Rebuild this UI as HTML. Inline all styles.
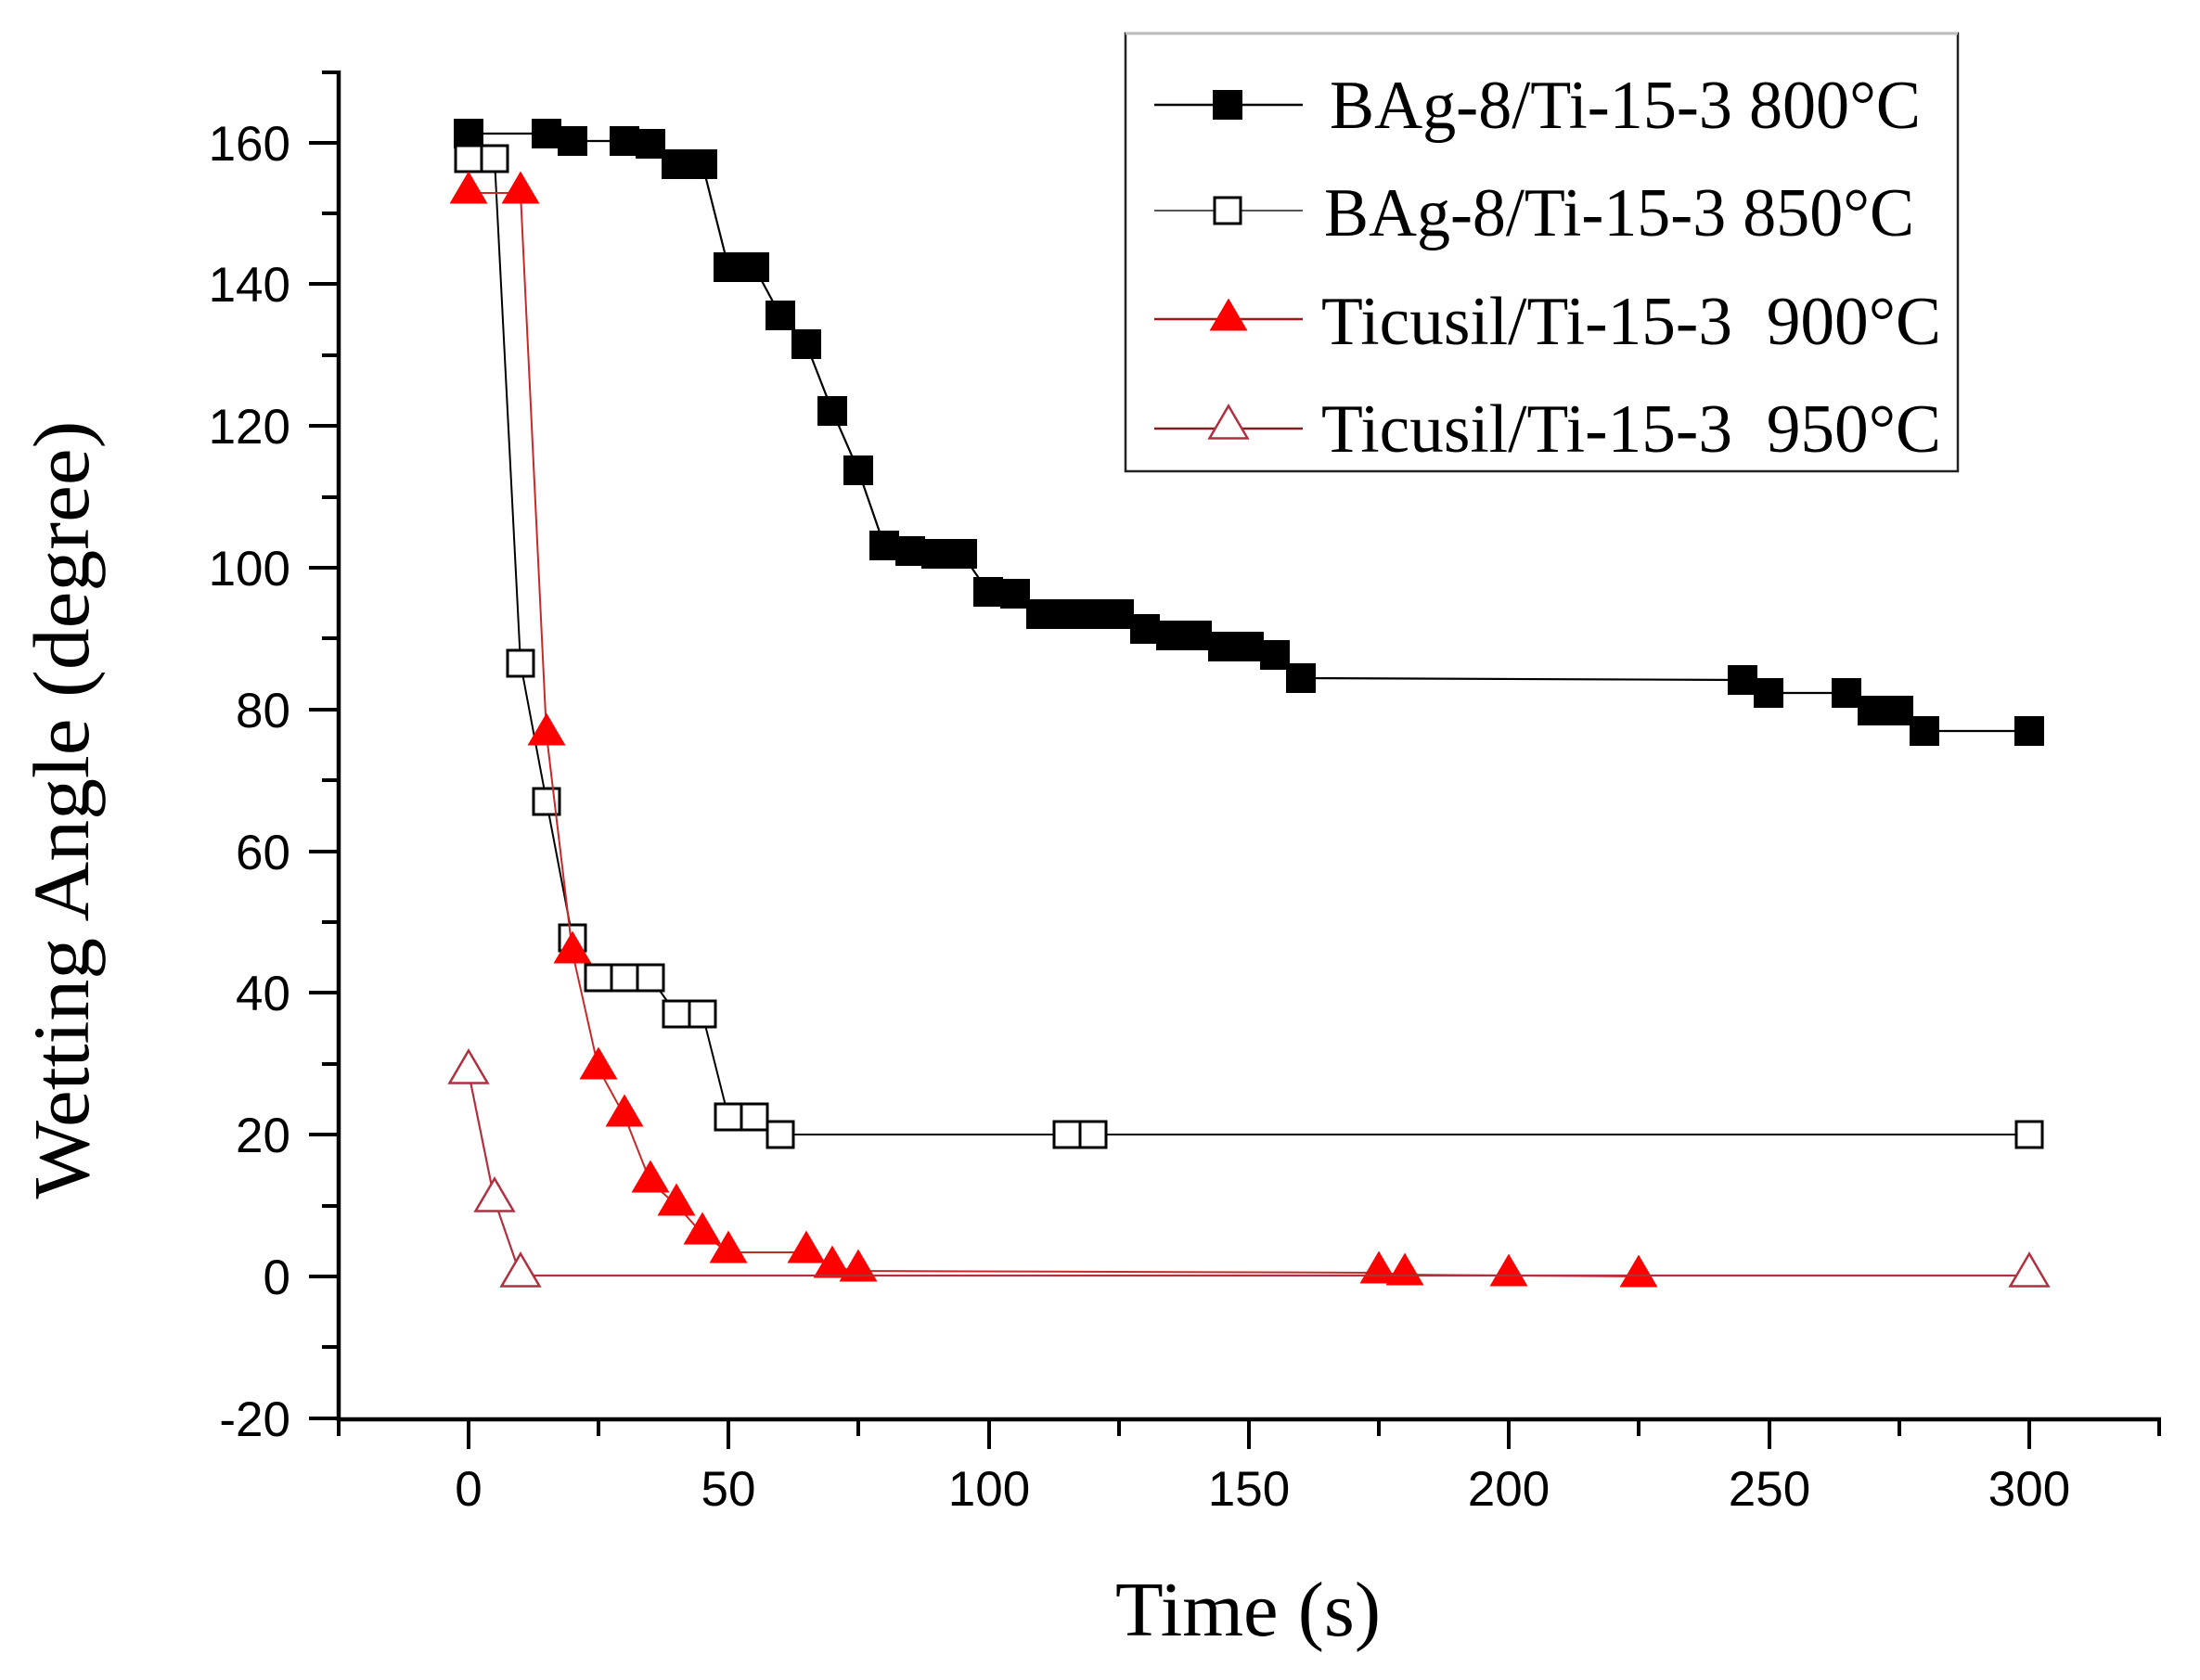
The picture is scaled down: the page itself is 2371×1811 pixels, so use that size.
<!DOCTYPE html>
<html>
<head>
<meta charset="utf-8">
<style>
html,body{margin:0;padding:0;background:#fff;}
svg{display:block;}
</style>
</head>
<body>
<svg width="2371" height="1811" viewBox="0 0 2371 1811" xmlns="http://www.w3.org/2000/svg">
<defs>
  <rect id="sqf" x="-16" y="-16" width="32" height="32" fill="#000"/>
  <rect id="sqo" x="-14" y="-14" width="28" height="28" fill="#fff" stroke="#000" stroke-width="3"/>
  <path id="tf" d="M0,-23.5 L20.5,11.5 L-20.5,11.5 Z" fill="#f00"/>
  <path id="to" d="M0,-23.5 L20.5,11.5 L-20.5,11.5 Z" fill="#fff" stroke="#b03040" stroke-width="2.5"/>
</defs>
<rect x="0" y="0" width="2371" height="1811" fill="#fff"/>

<!-- Axes -->
<g stroke="#000" stroke-width="4.5" fill="none">
  <line x1="365" y1="76" x2="365" y2="1532"/>
  <line x1="363" y1="1530" x2="2329" y2="1530"/>
</g>
<!-- Y major ticks -->
<g stroke="#000" stroke-width="4">
  <line x1="333" y1="1529" x2="365" y2="1529"/>
  <line x1="333" y1="1376" x2="365" y2="1376"/>
  <line x1="333" y1="1223" x2="365" y2="1223"/>
  <line x1="333" y1="1070" x2="365" y2="1070"/>
  <line x1="333" y1="918" x2="365" y2="918"/>
  <line x1="333" y1="765" x2="365" y2="765"/>
  <line x1="333" y1="612" x2="365" y2="612"/>
  <line x1="333" y1="459" x2="365" y2="459"/>
  <line x1="333" y1="306" x2="365" y2="306"/>
  <line x1="333" y1="154" x2="365" y2="154"/>
</g>
<!-- Y minor ticks -->
<g stroke="#000" stroke-width="4">
  <line x1="347" y1="1452" x2="365" y2="1452"/>
  <line x1="347" y1="1300" x2="365" y2="1300"/>
  <line x1="347" y1="1147" x2="365" y2="1147"/>
  <line x1="347" y1="994" x2="365" y2="994"/>
  <line x1="347" y1="841" x2="365" y2="841"/>
  <line x1="347" y1="688" x2="365" y2="688"/>
  <line x1="347" y1="536" x2="365" y2="536"/>
  <line x1="347" y1="383" x2="365" y2="383"/>
  <line x1="347" y1="230" x2="365" y2="230"/>
  <line x1="347" y1="78" x2="365" y2="78"/>
</g>
<!-- X major ticks -->
<g stroke="#000" stroke-width="4">
  <line x1="505" y1="1530" x2="505" y2="1562"/>
  <line x1="785" y1="1530" x2="785" y2="1562"/>
  <line x1="1066" y1="1530" x2="1066" y2="1562"/>
  <line x1="1346" y1="1530" x2="1346" y2="1562"/>
  <line x1="1626" y1="1530" x2="1626" y2="1562"/>
  <line x1="1907" y1="1530" x2="1907" y2="1562"/>
  <line x1="2187" y1="1530" x2="2187" y2="1562"/>
</g>
<!-- X minor ticks -->
<g stroke="#000" stroke-width="4">
  <line x1="365" y1="1530" x2="365" y2="1548"/>
  <line x1="645" y1="1530" x2="645" y2="1548"/>
  <line x1="925" y1="1530" x2="925" y2="1548"/>
  <line x1="1206" y1="1530" x2="1206" y2="1548"/>
  <line x1="1486" y1="1530" x2="1486" y2="1548"/>
  <line x1="1766" y1="1530" x2="1766" y2="1548"/>
  <line x1="2047" y1="1530" x2="2047" y2="1548"/>
  <line x1="2327" y1="1530" x2="2327" y2="1548"/>
</g>

<!-- Y tick labels -->
<g font-family="'Liberation Sans', Arial, sans-serif" font-size="53" fill="#000" text-anchor="end">
  <text x="313" y="1548">-20</text>
  <text x="313" y="1395">0</text>
  <text x="313" y="1242">20</text>
  <text x="313" y="1089">40</text>
  <text x="313" y="937">60</text>
  <text x="313" y="784">80</text>
  <text x="313" y="631">100</text>
  <text x="313" y="478">120</text>
  <text x="313" y="325">140</text>
  <text x="313" y="173">160</text>
</g>
<!-- X tick labels -->
<g font-family="'Liberation Sans', Arial, sans-serif" font-size="53" fill="#000" text-anchor="middle">
  <text x="505" y="1623">0</text>
  <text x="785" y="1623">50</text>
  <text x="1066" y="1623">100</text>
  <text x="1346" y="1623">150</text>
  <text x="1626" y="1623">200</text>
  <text x="1907" y="1623">250</text>
  <text x="2187" y="1623">300</text>
</g>

<!-- Axis titles -->
<text x="1345" y="1763" font-family="'Liberation Serif', 'Times New Roman', serif" font-size="84" text-anchor="middle" textLength="286" lengthAdjust="spacingAndGlyphs">Time (s)</text>
<text transform="translate(95,873) rotate(-90)" font-family="'Liberation Serif', 'Times New Roman', serif" font-size="86" text-anchor="middle" textLength="839" lengthAdjust="spacingAndGlyphs">Wetting Angle (degree)</text>

<!-- Series 1: BAg-8 800C -->
<polyline fill="none" stroke="#000" stroke-width="2.2" points="505,144 589,144 617,152 673,152 701,155 729,177 757,177 785,288 813,288 841,340 869,371 897,443 925,507 953,588 981,594 1009,597 1037,597 1065,638 1094,640 1122,662 1150,662 1178,662 1206,662 1234,678 1262,685 1290,685 1318,697 1346,697 1374,706 1402,731 1878,733 1906,747 1990,747 2018,766 2046,766 2074,788 2187,788"/>
<g>
  <use href="#sqf" x="505" y="144"/>
  <use href="#sqf" x="589" y="144"/>
  <use href="#sqf" x="617" y="152"/>
  <use href="#sqf" x="673" y="152"/>
  <use href="#sqf" x="701" y="155"/>
  <use href="#sqf" x="729" y="177"/>
  <use href="#sqf" x="757" y="177"/>
  <use href="#sqf" x="785" y="288"/>
  <use href="#sqf" x="813" y="288"/>
  <use href="#sqf" x="841" y="340"/>
  <use href="#sqf" x="869" y="371"/>
  <use href="#sqf" x="897" y="443"/>
  <use href="#sqf" x="925" y="507"/>
  <use href="#sqf" x="953" y="588"/>
  <use href="#sqf" x="981" y="594"/>
  <use href="#sqf" x="1009" y="597"/>
  <use href="#sqf" x="1037" y="597"/>
  <use href="#sqf" x="1065" y="638"/>
  <use href="#sqf" x="1094" y="640"/>
  <use href="#sqf" x="1122" y="662"/>
  <use href="#sqf" x="1150" y="662"/>
  <use href="#sqf" x="1178" y="662"/>
  <use href="#sqf" x="1206" y="662"/>
  <use href="#sqf" x="1234" y="678"/>
  <use href="#sqf" x="1262" y="685"/>
  <use href="#sqf" x="1290" y="685"/>
  <use href="#sqf" x="1318" y="697"/>
  <use href="#sqf" x="1346" y="697"/>
  <use href="#sqf" x="1374" y="706"/>
  <use href="#sqf" x="1402" y="731"/>
  <use href="#sqf" x="1878" y="733"/>
  <use href="#sqf" x="1906" y="747"/>
  <use href="#sqf" x="1990" y="747"/>
  <use href="#sqf" x="2018" y="766"/>
  <use href="#sqf" x="2046" y="766"/>
  <use href="#sqf" x="2074" y="788"/>
  <use href="#sqf" x="2187" y="788"/>
</g>

<!-- Series 2: BAg-8 850C -->
<polyline fill="none" stroke="#000" stroke-width="2" points="505,171 533,171 561,715 589,864 617,1011 645,1054 673,1054 701,1054 729,1093 757,1093 785,1204 813,1204 841,1223 1150,1223 1178,1223 2187,1223"/>
<g>
  <use href="#sqo" x="505" y="171"/>
  <use href="#sqo" x="533" y="171"/>
  <use href="#sqo" x="561" y="715"/>
  <use href="#sqo" x="589" y="864"/>
  <use href="#sqo" x="617" y="1011"/>
  <use href="#sqo" x="645" y="1054"/>
  <use href="#sqo" x="673" y="1054"/>
  <use href="#sqo" x="701" y="1054"/>
  <use href="#sqo" x="729" y="1093"/>
  <use href="#sqo" x="757" y="1093"/>
  <use href="#sqo" x="785" y="1204"/>
  <use href="#sqo" x="813" y="1204"/>
  <use href="#sqo" x="841" y="1223"/>
  <use href="#sqo" x="1150" y="1223"/>
  <use href="#sqo" x="1178" y="1223"/>
  <use href="#sqo" x="2187" y="1223"/>
</g>

<!-- Series 3: Ticusil 900C -->
<polyline fill="none" stroke="#c82828" stroke-width="2" points="505,208 561,208 589,792 617,1027 645,1152 673,1203 701,1274 729,1299 757,1330 785,1350 869,1350 897,1366 925,1370 1486,1372 1514,1374 1626,1375 1766,1376"/>
<g>
  <use href="#tf" x="505" y="208"/>
  <use href="#tf" x="561" y="208"/>
  <use href="#tf" x="589" y="792"/>
  <use href="#tf" x="617" y="1027"/>
  <use href="#tf" x="645" y="1152"/>
  <use href="#tf" x="673" y="1203"/>
  <use href="#tf" x="701" y="1274"/>
  <use href="#tf" x="729" y="1299"/>
  <use href="#tf" x="757" y="1330"/>
  <use href="#tf" x="785" y="1350"/>
  <use href="#tf" x="869" y="1350"/>
  <use href="#tf" x="897" y="1366"/>
  <use href="#tf" x="925" y="1370"/>
  <use href="#tf" x="1486" y="1372"/>
  <use href="#tf" x="1514" y="1374"/>
  <use href="#tf" x="1626" y="1375"/>
  <use href="#tf" x="1766" y="1376"/>
</g>

<!-- Series 4: Ticusil 950C -->
<polyline fill="none" stroke="#b03040" stroke-width="2.2" points="505,1156 533,1294 561,1375 2187,1375"/>
<g>
  <use href="#to" x="505" y="1156"/>
  <use href="#to" x="533" y="1294"/>
  <use href="#to" x="561" y="1375"/>
  <use href="#to" x="2187" y="1375"/>
</g>

<!-- Legend -->
<rect x="1213" y="36" width="897" height="472" fill="#fff" stroke="#222" stroke-width="2.5"/>
<line x1="1213" y1="36" x2="2110" y2="36" stroke="#bbb" stroke-width="3"/>
<line x1="1244" y1="113" x2="1404" y2="113" stroke="#000" stroke-width="2.5"/>
<use href="#sqf" x="1323" y="113"/>
<line x1="1244" y1="227" x2="1404" y2="227" stroke="#555" stroke-width="2"/>
<use href="#sqo" x="1323" y="227"/>
<line x1="1244" y1="344" x2="1404" y2="344" stroke="#a01818" stroke-width="2.5"/>
<use href="#tf" x="1324" y="345"/>
<line x1="1244" y1="462" x2="1404" y2="462" stroke="#802020" stroke-width="2.5"/>
<use href="#to" x="1324" y="461"/>
<g font-family="'Liberation Serif', 'Times New Roman', serif" font-size="74" fill="#000">
  <text x="1433" y="138" textLength="637" lengthAdjust="spacingAndGlyphs">BAg-8/Ti-15-3 800°C</text>
  <text x="1427" y="254" textLength="636" lengthAdjust="spacingAndGlyphs">BAg-8/Ti-15-3 850°C</text>
  <text x="1424" y="371" textLength="668" lengthAdjust="spacingAndGlyphs">Ticusil/Ti-15-3&#160; 900°C</text>
  <text x="1424" y="487" textLength="668" lengthAdjust="spacingAndGlyphs">Ticusil/Ti-15-3&#160; 950°C</text>
</g>
</svg>
</body>
</html>
